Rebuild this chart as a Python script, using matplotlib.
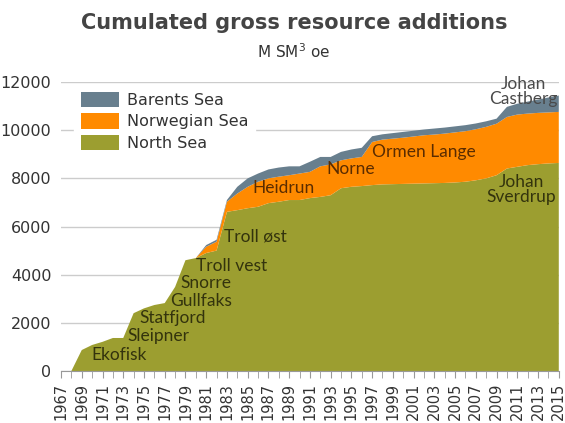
import matplotlib
matplotlib.use("Agg")
import matplotlib.pyplot as plt

# Years and cumulated additions per region (M Sm3 oe)
years = list(range(1967, 2016))

north_sea = [0, 0, 870, 1080, 1210, 1370, 1370, 2400, 2600, 2740,
             2820, 3490, 4600, 4690, 4900, 5000, 6610, 6680, 6760, 6820,
             6970, 7030, 7100, 7100, 7180, 7230, 7300, 7590, 7650, 7680,
             7720, 7750, 7760, 7770, 7780, 7790, 7800, 7810, 7830, 7860,
             7920, 8000, 8130, 8410, 8480, 8550, 8590, 8620, 8640]

norwegian_sea = [0, 0, 0, 0, 0, 0, 0, 0, 0, 0,
                 0, 0, 0, 0, 260, 370, 420, 690, 890, 1040,
                 1030, 1040, 1030, 1100, 1090, 1270, 1280, 1160, 1180, 1210,
                 1790, 1860, 1890, 1920, 1960, 2000, 2020, 2050, 2080, 2100,
                 2120, 2140, 2140, 2140, 2170, 2140, 2130, 2120, 2120]

barents_sea = [0, 0, 0, 0, 0, 0, 0, 0, 0, 0,
               0, 0, 0, 0, 70, 80, 70, 280, 350, 340,
               370, 380, 370, 300, 420, 390, 310, 350, 370, 380,
               240, 220, 230, 240, 240, 240, 250, 250, 250, 250,
               240, 230, 210, 420, 450, 500, 550, 620, 680]

series_names = ["North Sea", "Norwegian Sea", "Barents Sea"]
colors = ["#9c9e30", "#ff8a00", "#687f8e"]

# Field labels: (text, year, value)
fields = [
    ("Ekofisk", 1969.9, 660),
    ("Sleipner", 1973.4, 1450),
    ("Statfjord", 1974.6, 2200),
    ("Gullfaks", 1977.5, 2900),
    ("Snorre", 1978.5, 3650),
    ("Troll vest", 1980.0, 4360),
    ("Troll øst", 1982.7, 5600),
]
norw_fields = [
    ("Heidrun", 1985.5, 7600),
    ("Norne", 1992.6, 8380),
    ("Ormen Lange", 1997.0, 9090),
]

fig = plt.figure(figsize=(5.65, 4.23), dpi=100)
ax = fig.add_axes([0.108, 0.123, 0.881, 0.683])

ax.stackplot(years, north_sea, norwegian_sea, barents_sea,
             colors=colors, labels=series_names, zorder=3)

ax.set_xlim(1967, 2015)
ax.set_ylim(0, 12000)
ax.set_yticks(range(0, 12001, 2000))
ax.set_xticks(years, minor=True)
ax.set_xticks(range(1967, 2016, 2))
ax.tick_params(axis="x", which="both", length=5, color="#999999",
               labelrotation=90, labelsize=10.5, labelcolor="#333333")
ax.tick_params(axis="y", length=0, labelsize=11.5, labelcolor="#333333", pad=7)
ax.grid(axis="y", color="#cccccc", lw=1, zorder=0)

for s in ["top", "right", "left"]:
    ax.spines[s].set_visible(False)
ax.spines["bottom"].set_color("#999999")
ax.spines["bottom"].set_zorder(4)

# Legend in order Barents, Norwegian, North
handles, labels = ax.get_legend_handles_labels()
leg = ax.legend(handles[::-1], labels[::-1], loc="upper left",
                bbox_to_anchor=(0.02, 1.0), frameon=True, fontsize=11.5,
                handlelength=2.4, handleheight=1.1, labelspacing=0.35,
                handletextpad=0.5, borderaxespad=0.2)
leg.get_frame().set_edgecolor("white")
leg.get_frame().set_facecolor("white")
leg.get_frame().set_alpha(1)
for t in leg.get_texts():
    t.set_color("#333333")

lab_font = "Lato"
for txt, x, y in fields:
    ax.text(x, y, txt, ha="left", va="center", fontsize=12.5, color="#33330d",
            family=lab_font, zorder=5)
for txt, x, y in norw_fields:
    ax.text(x, y, txt, ha="left", va="center", fontsize=12.5, color="#5a2c00",
            family=lab_font, zorder=5)

ax.text(2011.4, 7550, "Johan\nSverdrup", ha="center", va="center",
        fontsize=12.5, color="#33330d", family=lab_font, linespacing=0.95,
        zorder=5)
ax.text(2011.6, 11620, "Johan\nCastberg", ha="center", va="center",
        fontsize=12.5, color="#4a4a4a", family=lab_font, linespacing=0.95,
        zorder=5, clip_on=False)

fig.text(0.52, 0.945, "Cumulated gross resource additions", ha="center",
         va="center", fontsize=15, fontweight="bold", color="#444444")
fig.text(0.52, 0.878, "M SM$^3$ oe", ha="center", va="center",
         fontsize=11, color="#333333")

fig.savefig("out.png", dpi=100)
